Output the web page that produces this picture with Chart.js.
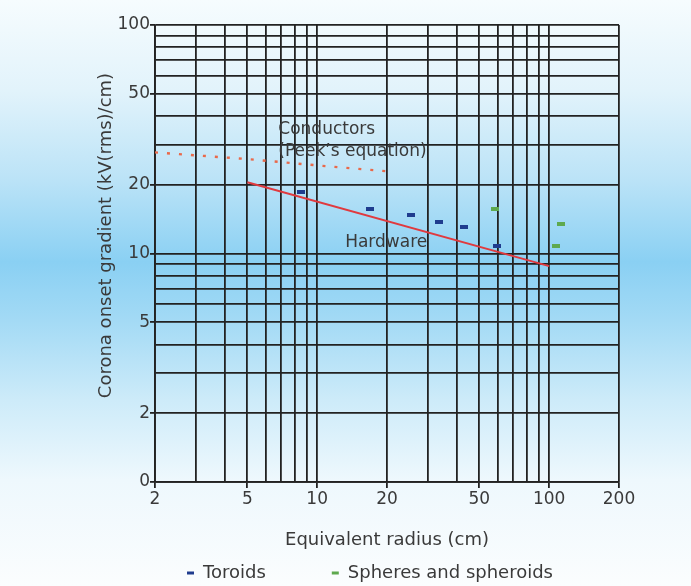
<!DOCTYPE html>
<html>
<head>
<meta charset="utf-8">
<script src="https://cdn.jsdelivr.net/npm/chart.js@4.4.1/dist/chart.umd.min.js"></script>
<style>
  html, body { margin: 0; padding: 0; }
  body {
    width: 691px;
    height: 586px;
    overflow: hidden;
    background: linear-gradient(to bottom, #f6fcfe 0px, #e2f3fb 90px, #bbe3f7 180px, #8ad0f3 262px, #a3daf5 320px, #cdebf9 400px, #eef8fd 480px, #fbfdfe 586px);
  }
  #wrap { position: relative; width: 691px; height: 586px; }
</style>
</head>
<body>
<div id="wrap"><canvas id="coronaChart"></canvas></div>
<script>
// radius in cm (x), onset gradient in kV(rms)/cm (y)
const peekRadius = [2, 5, 10, 20];
const peekGradient = [27.7, 25.9, 24.3, 22.9];

const hardwareRadius = [5, 100];
const hardwareGradient = [20.5, 8.8];

const toroidRadius = [8.5, 16.9, 25.3, 33.5, 43, 59.7];
const toroidGradient = [18.6, 15.7, 14.7, 13.8, 13.0, 10.8];

const sphereRadius = [58.6, 107, 112];
const sphereGradient = [15.7, 10.8, 13.5];

// labelled ticks
const xTickValues = [2, 5, 10, 20, 50, 100, 200];
const yTickValues = [1, 2, 5, 10, 20, 50, 100];
const yTickLabels = ['0', '2', '5', '10', '20', '50', '100'];

const xTitle = 'Equivalent radius (cm)';
const yTitle = 'Corona onset gradient (kV(rms)/cm)';

const gridColor = '#222222';
const textColor = '#3a3a3a';
const toroidColor = '#1f3c8e';
const sphereColor = '#5ea94e';

// text notes sit at data coordinates
const notes = [
  { text: 'Conductors', x: 6.8, y: 34.8 },
  { text: '(Peek\u2019s equation)', x: 6.8, y: 27.9 },
  { text: 'Hardware', x: 13.2, y: 11.2 },
];

function toPoints(xs, ys) {
  return xs.map((x, i) => ({ x: x, y: ys[i] }));
}

// small flat dash used as marker
function dashMarker(color) {
  const c = document.createElement('canvas');
  c.width = 8;
  c.height = 4;
  const g = c.getContext('2d');
  g.fillStyle = color;
  g.fillRect(0, 0, 8, 4);
  return c;
}

// drop the 15 / 150 style ticks, keep 1..9 x 10^n
function keepWholeSteps(scale) {
  scale.ticks = scale.ticks.filter(t => {
    const m = t.value / Math.pow(10, Math.floor(Math.log10(t.value) + 1e-9));
    return Math.abs(m - Math.round(m)) < 1e-6;
  });
}

const textPlugin = {
  id: 'chartText',
  afterDatasetsDraw(chart) {
    const { ctx, chartArea, scales: { x, y } } = chart;
    ctx.save();
    ctx.fillStyle = textColor;
    ctx.font = '17px "DejaVu Sans"';
    ctx.textAlign = 'left';
    ctx.textBaseline = 'middle';
    notes.forEach(n => {
      ctx.fillText(n.text, x.getPixelForValue(n.x), y.getPixelForValue(n.y));
    });
    ctx.font = '18px "DejaVu Sans"';
    ctx.textAlign = 'center';
    ctx.translate(chartArea.left - 49, (chartArea.top + chartArea.bottom) / 2 - 18);
    ctx.rotate(-Math.PI / 2);
    ctx.fillText(yTitle, 0, 0);
    ctx.restore();
  }
};

Chart.defaults.font.family = '"DejaVu Sans", sans-serif';
Chart.defaults.color = textColor;

const ctx = document.getElementById('coronaChart').getContext('2d');

new Chart(ctx, {
  type: 'scatter',
  data: {
    datasets: [
      {
        label: 'Conductors (Peek\u2019s equation)',
        type: 'line',
        data: toPoints(peekRadius, peekGradient),
        borderColor: '#e9694a',
        borderWidth: 2.4,
        borderDash: [3, 9],
        pointRadius: 0,
        fill: false,
        tension: 0,
      },
      {
        label: 'Hardware',
        type: 'line',
        data: toPoints(hardwareRadius, hardwareGradient),
        borderColor: '#e03a3f',
        borderWidth: 1.9,
        pointRadius: 0,
        fill: false,
      },
      {
        label: 'Toroids',
        data: toPoints(toroidRadius, toroidGradient),
        backgroundColor: toroidColor,
        borderColor: toroidColor,
        borderWidth: 0,
        pointStyle: dashMarker(toroidColor),
      },
      {
        label: 'Spheres and spheroids',
        data: toPoints(sphereRadius, sphereGradient),
        backgroundColor: sphereColor,
        borderColor: sphereColor,
        borderWidth: 0,
        pointStyle: dashMarker(sphereColor),
      },
    ],
  },
  options: {
    responsive: true,
    maintainAspectRatio: false,
    animation: false,
    layout: {
      padding: { left: 110, right: 72, top: 25, bottom: -6 },
    },
    plugins: {
      tooltip: { enabled: false },
      legend: {
        position: 'bottom',
        align: 'end',
        labels: {
          filter: item => item.datasetIndex >= 2,
          boxWidth: 7,
          boxHeight: 3,
          padding: 66,
          color: textColor,
          font: { size: 18 },
        },
      },
    },
    scales: {
      x: {
        type: 'logarithmic',
        min: 2,
        max: 200,
        afterBuildTicks: keepWholeSteps,
        afterFit: scale => { scale.height = 16; },
        grid: {
          color: gridColor,
          lineWidth: 1.8,
          tickLength: 6,
          tickColor: c => (c.tick && xTickValues.includes(c.tick.value) ? gridColor : 'rgba(0,0,0,0)'),
        },
        border: { color: gridColor, width: 1.8 },
        ticks: {
          autoSkip: false,
          maxRotation: 0,
          // mirrored so the labels are not clipped to the short axis box
          mirror: true,
          padding: -28,
          font: { size: 17 },
          callback: v => (xTickValues.includes(v) ? String(v) : ''),
        },
        title: {
          display: true,
          text: xTitle,
          color: textColor,
          font: { size: 18 },
          padding: { top: 0, bottom: -53 },
        },
      },
      y: {
        type: 'logarithmic',
        min: 1,
        max: 100,
        afterBuildTicks: keepWholeSteps,
        afterFit: scale => { scale.width = 45; },
        grid: {
          color: gridColor,
          lineWidth: 1.8,
          tickLength: 5,
          tickColor: c => (c.tick && yTickValues.includes(c.tick.value) ? gridColor : 'rgba(0,0,0,0)'),
        },
        border: { color: gridColor, width: 1.8 },
        ticks: {
          autoSkip: false,
          padding: 0,
          font: { size: 17 },
          callback: v => {
            const i = yTickValues.indexOf(v);
            return i >= 0 ? yTickLabels[i] : '';
          },
        },
      },
    },
  },
  plugins: [textPlugin],
});
</script>
</body>
</html>
